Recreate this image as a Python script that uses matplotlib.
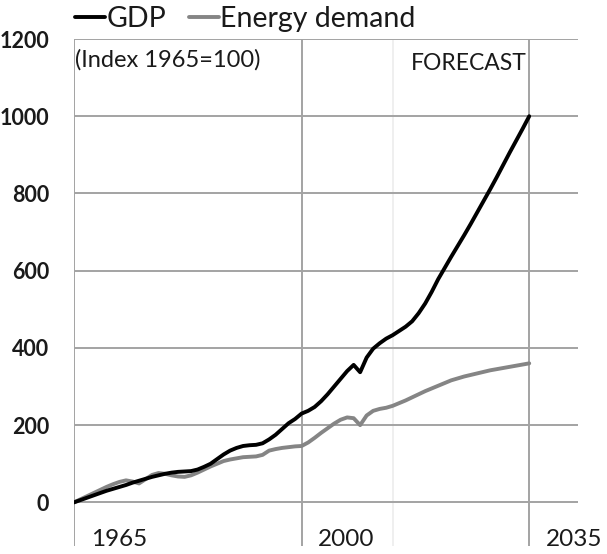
import matplotlib
matplotlib.use("Agg")
import matplotlib.pyplot as plt
import matplotlib.transforms as mtransforms

years = list(range(1965, 2036))
gdp = [0, 6, 12, 18, 24, 30, 35, 40, 45, 51, 56, 61, 66, 70, 74, 77, 79, 80, 81, 85,
       92, 100, 112, 124, 134, 141, 146, 148, 149, 153, 163, 175, 190, 205, 216, 230,
       237, 247, 262, 280, 300, 320, 340, 356, 337, 375, 398, 412, 424, 433, 444,
       455, 469, 490, 515, 545, 578, 607, 636, 664, 692, 721, 751, 781, 811, 842,
       874, 906, 937, 968, 1000]
energy = [0, 8, 16, 24, 32, 40, 47, 53, 57, 54, 49, 60, 71, 76, 74, 70, 67, 66, 70, 77,
          85, 93, 100, 107, 111, 114, 117, 118, 119, 123, 134, 138, 141, 143, 145, 146,
          155, 167, 180, 192, 204, 214, 220, 218, 200, 225, 237, 242, 245, 250, 257,
          264, 272, 280, 288, 295, 302, 309, 316, 321, 326, 330, 334, 338, 342, 345,
          348, 351, 354, 357, 360]
series_names = ["GDP", "Energy demand"]
y_ticks = [0, 200, 400, 600, 800, 1000, 1200]
x_marks = [1965, 2000, 2035]
x_labels = ["1965", "2000", "2035"]
forecast_start = 2014

FONT = "Lato"
grid_c = "#a3a3a3"

fig = plt.figure(figsize=(6.07, 5.54), dpi=100)
W, H = 607, 554
ax = fig.add_axes([74 / W, 1 - 546 / H, (578 - 74) / W, (546 - 39) / H])
ax.set_xlim(1965, 2042.5)
ax.set_ylim(-113, 1200)

for s in ax.spines.values():
    s.set_visible(False)

for v in y_ticks:
    ax.axhline(v, color=grid_c, lw=1.4, zorder=1)
for xm in x_marks:
    ax.axvline(xm, color=grid_c, lw=1.4, zorder=1)
ax.axvline(forecast_start, color="#ececec", lw=1.2, zorder=0.5)

l1, = ax.plot(years, gdp, color="black", lw=2.8, zorder=3, solid_capstyle="round")
l2, = ax.plot(years, energy, color="#858585", lw=2.8, zorder=2, solid_capstyle="round")

ax.set_yticks(y_ticks)
ax.set_yticklabels([str(v) for v in y_ticks], fontfamily=FONT, fontweight="bold",
                   fontsize=15.5, color="#1a1a1a")
ax.tick_params(axis="y", length=0, pad=18)
ax.set_xticks([])

trans = mtransforms.blended_transform_factory(ax.transData, fig.transFigure)
for xm, lab in zip(x_marks, x_labels):
    ax.text(xm + 6.9, 1 - 540 / H, lab, transform=trans, ha="center", va="center",
            fontfamily=FONT, fontsize=17.5, color="#1a1a1a", clip_on=False)

fig.text(75 / W, 1 - 60 / H, "(Index 1965=100)", ha="left", va="center",
         fontfamily=FONT, fontsize=17, color="#1a1a1a")
fig.text(527 / W, 1 - 64 / H, "FORECAST", ha="right", va="center",
         fontfamily=FONT, fontsize=16.5, color="#1a1a1a")

leg = fig.legend([l1, l2], series_names, loc="center left",
                 bbox_to_anchor=(75 / W, 1 - 19 / H), ncol=2, frameon=False,
                 handlelength=1.05, handletextpad=0.05, columnspacing=0.8,
                 borderpad=0, borderaxespad=0,
                 prop={"family": FONT, "size": 20.5})
for t in leg.get_texts():
    t.set_color("#1a1a1a")

fig.savefig("out.png", dpi=100)
